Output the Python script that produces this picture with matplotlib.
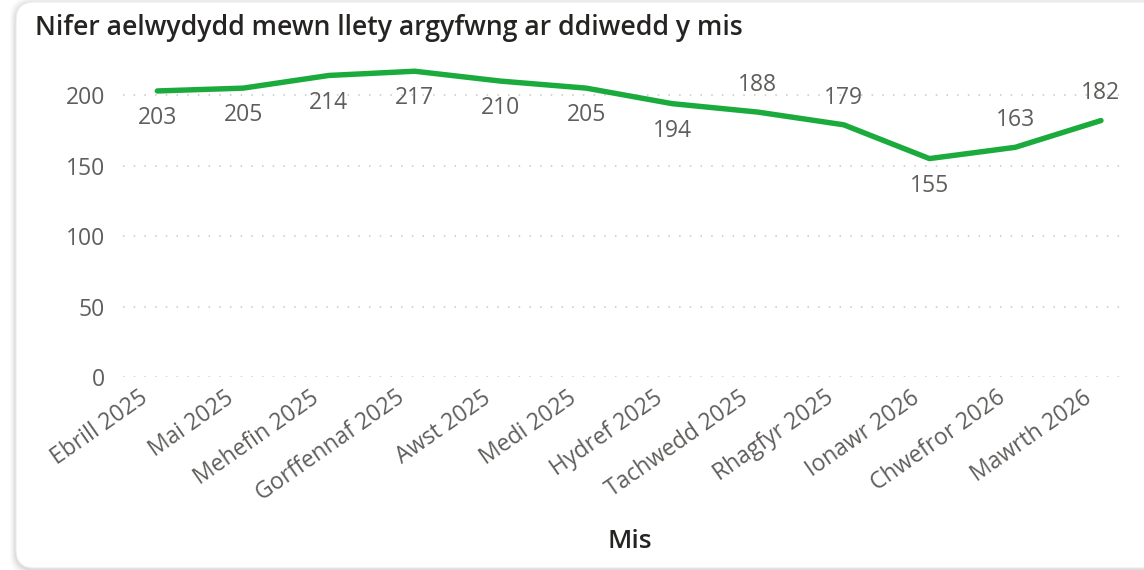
import matplotlib
matplotlib.use("Agg")
import matplotlib.pyplot as plt
import matplotlib.transforms as mtransforms
from matplotlib.patches import FancyBboxPatch

months = ["Ebrill 2025", "Mai 2025", "Mehefin 2025", "Gorffennaf 2025", "Awst 2025",
          "Medi 2025", "Hydref 2025", "Tachwedd 2025", "Rhagfyr 2025", "Ionawr 2026",
          "Chwefror 2026", "Mawrth 2026"]
households = [203, 205, 214, 217, 210, 205, 194, 188, 179, 155, 163, 182]
label_side = ["below", "below", "below", "below", "below", "below", "below",
              "above", "above", "below", "above", "above"]
y_ticks = [0, 50, 100, 150, 200]

W, H = 1144, 570
fig = plt.figure(figsize=(W / 100, H / 100), dpi=100)
fig.patch.set_facecolor("white")

# background layer with card and soft shadow, in pixel units
bg = fig.add_axes([0, 0, 1, 1], zorder=0)
bg.set_xlim(0, W)
bg.set_ylim(H, 0)
bg.axis("off")
for i, a in enumerate([0.05, 0.04, 0.03, 0.02]):
    grow = (i + 1) * 1.5
    bg.add_patch(FancyBboxPatch((16 - grow, 2 - grow + 1.5), 1160 + 2 * grow, 566 + 2 * grow,
                                boxstyle="round,pad=0,rounding_size=20",
                                facecolor="black", edgecolor="none", alpha=a))
bg.add_patch(FancyBboxPatch((16, 2), 1160, 566, boxstyle="round,pad=0,rounding_size=18",
                            facecolor="white", edgecolor="#ebebeb", linewidth=0.8))

ax = fig.add_axes([123 / W, (H - 377) / H, (1125 - 123) / W, (377 - 67) / H], zorder=1)
ax.patch.set_alpha(0)
x = list(range(len(months)))
ax.plot(x, households, color="#1AAB3C", linewidth=3.9, solid_capstyle="round",
        solid_joinstyle="round", clip_on=False, zorder=3)

ax.set_xlim(-0.4, 11.28)
ax.set_ylim(0, 220)
ax.set_yticks(y_ticks)
ax.set_yticklabels([str(t) for t in y_ticks])
for t in y_ticks:
    ax.axhline(t, color="#c8c6c4", linewidth=1.1, linestyle=(0, (1, 6)), zorder=1)

for s in ax.spines.values():
    s.set_visible(False)
ax.tick_params(axis="both", length=0, colors="#605E5C", labelsize=16.5)
ax.tick_params(axis="y", pad=13)
ax.set_xticks(x)
ax.set_xticklabels(months, rotation=35, ha="right", va="center",
                   rotation_mode="anchor", fontfamily="Open Sans", color="#605E5C",
                   fontsize=16.5)
ax.tick_params(axis="x", pad=12)
shift = mtransforms.ScaledTranslation(-12 / 100, -2 / 100, fig.dpi_scale_trans)
for lab in ax.get_xticklabels():
    lab.set_transform(lab.get_transform() + shift)
for lab in ax.get_yticklabels():
    lab.set_fontfamily("Open Sans")

for xi, v, side in zip(x, households, label_side):
    off = 19.5 if side == "above" else -19.5
    ax.annotate(str(v), (xi, v), xytext=(0, off), textcoords="offset points",
                ha="center", va="center", fontsize=16.5, color="#605E5C",
                fontfamily="Open Sans", zorder=4)

fig.text(35 / W, 1 - 28 / H, "Nifer aelwydydd mewn llety argyfwng ar ddiwedd y mis",
         ha="left", va="center", fontsize=19.2, color="#252423", fontfamily="Open Sans",
         fontweight="semibold")
fig.text(630 / W, 1 - 542 / H, "Mis", ha="center", va="center", fontsize=19,
         color="#252423", fontfamily="Open Sans", fontweight="semibold")

fig.savefig("out.png", dpi=100, facecolor="white")
